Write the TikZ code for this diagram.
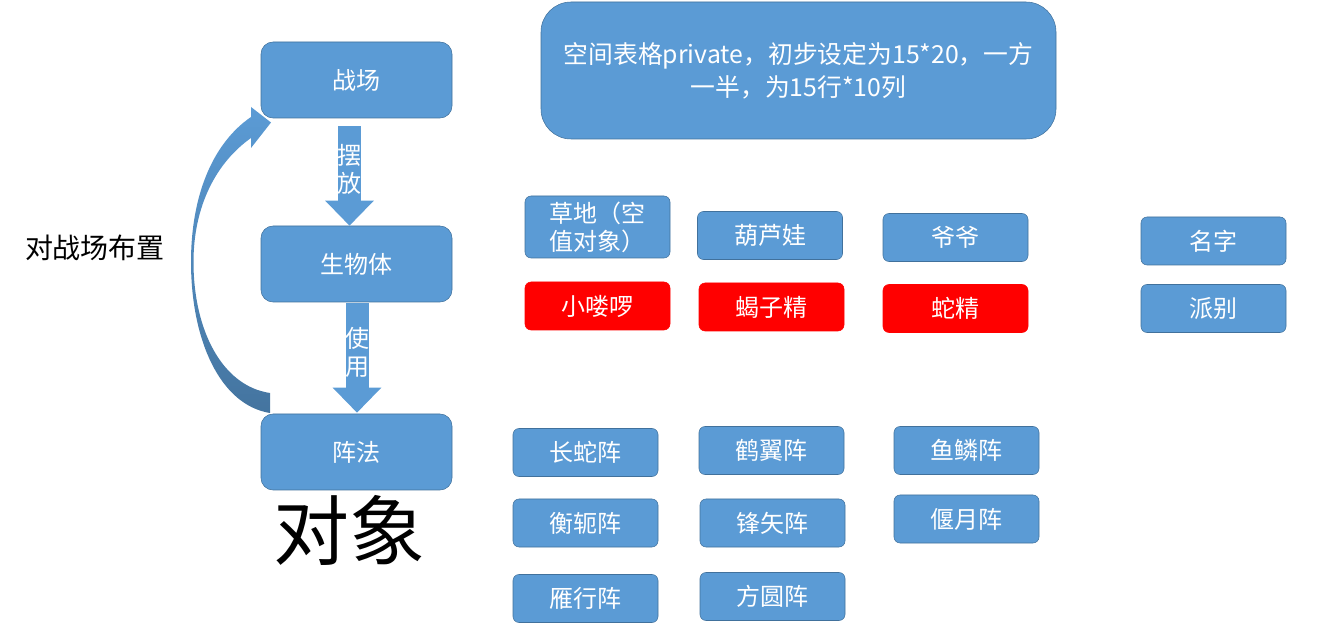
\documentclass[tikz,border=0pt]{standalone}
\usepackage{fontspec}
\newfontfamily\cjk{Noto Sans CJK SC}
\usetikzlibrary{arrows.meta,positioning,calc}
\definecolor{boxblue}{HTML}{5B9BD5}
\definecolor{boxline}{HTML}{41719C}
\definecolor{arcdark}{HTML}{44749F}

\begin{document}
\begin{tikzpicture}[x=0.75pt, y=-0.75pt,
    bigbox/.style={draw=boxline, fill=boxblue, rounded corners=9pt, minimum width=143.25pt, minimum height=57pt, inner sep=0pt, text=white, font=\cjk\fontsize{18}{21}\selectfont},
    item/.style={bigbox, rounded corners=4.5pt, minimum width=108.75pt, minimum height=36pt},
    enemy/.style={item, draw=red, fill=red},
    blockarrow/.style={boxblue, line width=17.25pt, -{Triangle[length=18.75pt, width=35.25pt]}},
    arrowtext/.style={text=white, align=center, font=\cjk\fontsize{18}{21}\selectfont}
  ]
  \useasboundingbox (0,0) rectangle (1317,630);

  % Hauptkaesten
  \node[bigbox] (zc) at (356.5,80) {战场};
  \node[bigbox] (swt) at (356.5,264) {生物体};
  \node[bigbox] (zf) at (356.5,452) {阵法};

  % Blockpfeile
  \draw[blockarrow] ($(zc.south)+(-7,8)$) -- ($(swt.north)+(-7,0)$);
  \node[arrowtext] (bf) at (349.5,169) {摆\\放};
  \draw[blockarrow] ($(swt.south)+(0.5,1)$) -- ($(zf.north)+(0.5,-1)$);
  \node[arrowtext] (sy) at (357,352) {使\\用};

  % Bogenpfeil
  \coordinate (bogenA) at (270,413);
  \shade[top color=boxblue, bottom color=arcdark]
    (bogenA) .. controls (220,405) and (191,340) .. (191,262)
    .. controls (191,195) and (213,143) .. (251,117)
    -- (251,107) -- (271,122.5) -- (251,148) -- (251,138)
    .. controls (217,162) and (193.5,205) .. (193.5,262)
    .. controls (193.5,330) and (222,386) .. (270,393) -- cycle;

  % Beschriftung
  \node[font=\cjk\fontsize{57}{60}\selectfont] (dx) at (349,530) {对象};
  \node[font=\cjk\fontsize{21}{24}\selectfont] (bz) at (95,248) {对战场布置};

  % Hinweis
  \node[bigbox, rounded corners=22.5pt, minimum width=386.25pt, minimum height=102.75pt,
    align=center, font=\cjk\fontsize{18.6}{25}\selectfont] (note) at (798.5,70.5)
    {空间表格private，初步设定为15*20，一方\\一半，为15行*10列};

  % Figuren
  \node[item, minimum height=46.5pt, align=center] (cd) at (597.5,227) {草地（空\\值对象）};
  \node[item] (hlw) at (770,235.5) {葫芦娃};
  \node[item] (yy) at (955.5,237.5) {爷爷};
  \node[item] (mz) at (1213.5,241) {名字};
  \node[enemy] (xll) at (597.5,306) {小喽啰};
  \node[enemy] (xzj) at (771.5,307) {蝎子精};
  \node[enemy] (sj) at (955.5,308.5) {蛇精};
  \node[item] (pb) at (1213.5,308.5) {派别};

  % Formationen
  \node[item] (csz) at (585.5,452.5) {长蛇阵};
  \node[item] (hyz) at (771.5,450.5) {鹤翼阵};
  \node[item] (ylz) at (966.5,450.5) {鱼鳞阵};
  \node[item] (hez) at (585.5,523) {衡轭阵};
  \node[item] (fsz) at (772.5,523) {锋矢阵};
  \node[item] (yyz) at (966.5,519) {偃月阵};
  \node[item] (yhz) at (585.5,598.5) {雁行阵};
  \node[item] (fyz) at (772.5,596.5) {方圆阵};
\end{tikzpicture}
\end{document}
